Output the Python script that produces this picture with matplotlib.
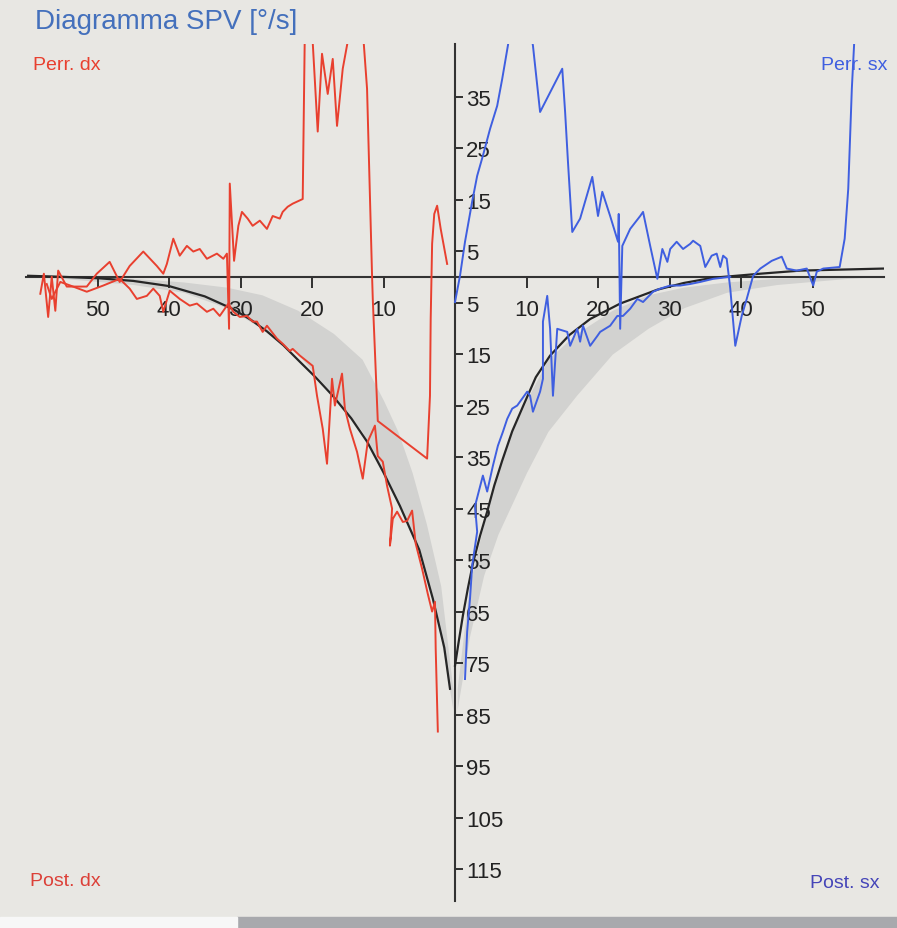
import matplotlib.pyplot as plt
from matplotlib.patches import Rectangle
from matplotlib.ticker import FuncFormatter
import numpy as np

# normal range band (|t| in s, SPV in deg/s), mirrored on both sides
band_t = [0.3, 2, 4, 6, 8, 10, 13, 17, 22, 27, 32, 38, 45, 55, 59]
band_inner = [-80, -60, -48, -38, -30, -24, -16, -11, -6.5, -3.5, -2, -1, -0.3, 0, 0]
band_outer = [-84, -70, -58, -50, -44, -38, -30, -23, -15, -10, -6, -3, -1.5, -0.3, 0]

# fitted decay curves
fit_dx_t = [-0.7, -1.5, -3.1, -5.0, -7.7, -10.0, -12.3, -14.5, -17.1, -19.5, -21.7, -24.0,
            -26.3, -28.5, -31.0, -35.0, -40.0, -45.0, -49.7, -55.0, -59.7]
fit_dx_v = [-80.0, -72.0, -62.5, -53.0, -44.5, -38.0, -32.0, -27.5, -23.1, -19.5, -16.5,
            -13.3, -10.6, -8.4, -6.3, -3.8, -1.8, -0.8, -0.3, 0.0, 0.2]
fit_sx_t = [0.0, 0.5, 1.1, 1.8, 2.5, 3.5, 4.5, 5.5, 6.6, 8.0, 9.5, 11.3, 13.3, 16.0, 18.9,
            23.1, 28.3, 32.0, 36.0, 42.7, 48.3, 60.0]
fit_sx_v = [-75.5, -71.0, -65.8, -60.5, -55.7, -50.3, -45.6, -40.5, -35.7, -30.0, -25.2,
            -19.5, -15.3, -11.3, -8.2, -5.2, -2.5, -1.2, -0.2, 0.6, 1.2, 1.6]

# Perr. dx (red, upper trace)
perr_dx_t = [-1.1, -2.0, -2.5, -2.9, -3.2, -3.4, -3.5, -3.9, -10.8, -11.5, -11.6, -12.3,
             -12.9, -14.7, -15.7, -16.5, -17.1, -17.8, -18.6, -19.2, -20.0, -21.0, -21.3,
             -22.7, -23.4, -24.1, -24.5, -25.5, -26.3, -27.3, -28.3, -29.0, -29.8, -30.3,
             -30.9, -31.5, -31.6, -31.9, -32.4, -33.3, -34.7, -35.7, -36.6, -37.5, -38.5,
             -39.4, -40.3, -40.8, -41.7, -43.6, -45.5, -46.9, -48.3, -50.1, -51.5, -54.3,
             -55.5, -55.9, -56.4, -56.9, -57.5, -58.0]
perr_dx_v = [2.5, 9.3, 13.8, 12.2, 6.4, -8.2, -23.1, -35.3, -28.0, -4.3, 0.2, 36.5,
             48, 48, 40.4, 29.3, 42.3, 35.5, 43.3, 28.2, 48, 48, 15.1,
             14.2, 13.6, 12.6, 11.3, 11.8, 9.3, 10.9, 9.9, 11.3, 12.6, 9.9,
             3.1, 18.1, -10.1, 4.5, 3.5, 4.5, 3.5, 5.4, 4.9, 6.0, 4.1,
             7.4, 2.5, 0.6, 2.1, 4.9, 2.1, -1.0, 2.9, 0.6, -1.9, -1.9,
             1.2, -6.6, 0.0, -7.8, 0.6, -3.3]

# Post. dx (red, lower trace)
post_dx_t = [-2.4, -2.7, -2.8, -3.2, -3.8, -4.6, -5.5, -6.0, -6.7, -7.3, -8.1, -8.7, -9.1,
             -8.8, -9.5, -10.1, -10.8, -11.2, -12.2, -12.9, -13.7, -14.7, -15.4, -15.8,
             -16.8, -17.2, -17.9, -18.5, -19.3, -19.9, -21.7, -22.7, -23.1, -24.1, -24.9,
             -26.3, -26.9, -27.7, -28.3, -29.1, -30.1, -31.0, -31.7, -32.9, -33.8, -34.7,
             -36.1, -37.1, -38.5, -39.9, -40.8, -41.3, -42.2, -43.1, -44.5, -45.5, -46.9,
             -49.2, -51.5, -53.8, -55.2, -56.4, -57.1]
post_dx_v = [-88.3, -72.2, -63.1, -65.0, -61.6, -56.7, -51.8, -45.4, -47.4, -47.6, -45.6,
             -47.0, -52.2, -45.0, -40.6, -35.9, -34.8, -28.9, -32.0, -39.2, -34.0, -29.5,
             -25.6, -18.8, -25.0, -19.8, -36.3, -29.5, -23.1, -17.3, -15.3, -14.0, -14.4,
             -13.0, -12.0, -9.5, -10.7, -8.7, -8.7, -7.6, -7.8, -6.8, -5.2, -7.6, -6.2,
             -6.8, -5.2, -5.6, -4.3, -2.7, -6.8, -3.7, -2.3, -3.7, -4.3, -2.3, -0.4,
             -1.7, -2.9, -1.7, -1.0, -4.3, -1.4]

# Perr. sx (blue, upper trace)
perr_sx_t = [0.0, 0.7, 1.4, 2.4, 3.1, 3.9, 4.9, 5.9, 6.6, 7.4, 9.0, 10.9, 11.9, 15.0, 15.4,
             15.8, 16.4, 17.5, 19.2, 20.0, 20.6, 21.7, 22.8, 22.9, 23.1, 23.4, 24.5, 25.9,
             26.3, 27.3, 28.3, 29.0, 29.7, 30.1, 31.0, 31.9, 32.9, 33.3, 34.3, 35.0, 35.9,
             36.6, 37.1, 37.5, 38.0, 38.5, 39.2, 40.1, 40.8, 41.7, 42.7, 44.3, 45.7, 46.4,
             47.8, 49.2, 50.1, 50.6, 51.5, 53.8, 54.5, 55.0, 55.5, 56.0]
perr_sx_v = [-4.9, 0.2, 6.8, 14.6, 19.6, 23.5, 28.7, 33.2, 38.4, 44.9, 60, 44.9, 32.0, 40.4,
             32.0, 22.3, 8.7, 11.3, 19.4, 11.8, 16.5, 11.8, 6.8, 12.2, -10.1, 6.0, 9.3, 11.8,
             12.6, 6.0, -0.4, 5.4, 2.9, 5.4, 6.8, 5.4, 6.4, 7.0, 6.0, 1.9, 4.1,
             4.5, 1.9, 4.1, 3.5, -2.3, -13.4, -7.6, -4.3, 0.2, 1.6, 3.1, 3.9, 1.6,
             1.2, 1.6, -1.7, 1.0, 1.6, 1.9, 7.4, 17.1, 36.5, 50]

# Post. sx (blue, lower trace)
post_sx_t = [1.4, 1.7, 2.1, 2.4, 3.1, 2.8, 3.9, 4.5, 5.3, 6.0, 6.7, 7.3, 8.0, 8.7, 10.1,
             10.5, 10.9, 11.9, 12.3, 12.3, 12.9, 13.3, 13.7, 14.3, 15.7, 16.1, 17.1, 17.5,
             17.9, 18.9, 19.9, 20.3, 21.7, 22.7, 23.5, 24.5, 25.5, 26.3, 27.7, 28.7, 30.1,
             31.5, 32.9, 34.3, 36.1, 38.5]
post_sx_v = [-78.1, -68.9, -62.5, -56.1, -49.5, -44.5, -38.6, -41.7, -36.7, -32.8, -30.1,
             -27.6, -25.6, -25.0, -22.3, -23.1, -26.2, -22.3, -19.8, -8.7, -3.7, -10.1,
             -23.1, -10.1, -10.7, -13.4, -10.1, -12.6, -9.5, -13.4, -11.5, -10.7, -9.5,
             -7.6, -7.6, -6.2, -4.3, -4.9, -2.9, -2.3, -1.7, -1.7, -1.4, -1.0, -0.4, 0.0]

y_ticks = [35, 25, 15, 5, -5, -15, -25, -35, -45, -55, -65, -75, -85, -95, -105, -115]
x_ticks = [-50, -40, -30, -20, -10, 10, 20, 30, 40, 50]

red = '#e8402f'
blue = '#3f5fe0'
bg = '#e8e7e3'
tick_font = ['Liberation Sans Narrow', 'Liberation Sans', 'DejaVu Sans']

fig = plt.figure(figsize=(8.97, 9.29), dpi=100, facecolor=bg)
ax = fig.add_axes([26 / 897, 1 - 902 / 929, 858 / 897, 857 / 929])
ax.set_facecolor(bg)
ax.set_xlim(-60, 60)
ax.set_ylim(-121.2, 45.2)

bt = np.array(band_t)
ax.fill_between(-bt, band_inner, band_outer, color='#d2d2d0', lw=0, zorder=1)
ax.fill_between(bt, band_inner, band_outer, color='#d2d2d0', lw=0, zorder=1)

ax.plot(fit_dx_t, fit_dx_v, color='#262626', lw=1.6, zorder=2.5)
ax.plot(fit_sx_t, fit_sx_v, color='#262626', lw=1.6, zorder=2.5)

ax.plot(perr_dx_t, perr_dx_v, color=red, lw=1.4, zorder=3)
ax.plot(post_dx_t, post_dx_v, color=red, lw=1.4, zorder=3)
ax.plot(perr_sx_t, perr_sx_v, color=blue, lw=1.4, zorder=3)
ax.plot(post_sx_t, post_sx_v, color=blue, lw=1.4, zorder=3)

# axes crossing at the origin
for s in ['left', 'top']:
    ax.spines[s].set_visible(False)
ax.spines['right'].set_position(('data', 0))
ax.spines['bottom'].set_position(('data', 0))
for s in ['right', 'bottom']:
    ax.spines[s].set_color('#333333')
    ax.spines[s].set_linewidth(1.5)
    ax.spines[s].set_zorder(2)
ax.yaxis.tick_right()
ax.set_yticks(y_ticks)
ax.set_xticks(x_ticks)
absfmt = FuncFormatter(lambda v, p: '%d' % abs(v))
ax.xaxis.set_major_formatter(absfmt)
ax.yaxis.set_major_formatter(absfmt)
ax.tick_params(axis='y', direction='out', length=6, width=1.3, pad=2,
               colors='#222222', labelsize=16)
ax.tick_params(axis='x', direction='out', length=8, width=1.3, pad=8,
               colors='#222222', labelsize=16)
for lab in ax.get_xticklabels() + ax.get_yticklabels():
    lab.set_family(tick_font)

fig.text(35 / 897, 1 - 22 / 929, 'Diagramma SPV [°/s]', color='#4470bc',
         fontsize=20, family='Liberation Sans', va='center', ha='left')
fig.text(33 / 897, 1 - 66 / 929, 'Perr. dx', color=red, fontsize=14,
         family='Liberation Sans', va='center', ha='left')
fig.text(887 / 897, 1 - 66 / 929, 'Perr. sx', color=blue, fontsize=14,
         family='Liberation Sans', va='center', ha='right')
fig.text(30 / 897, 1 - 882 / 929, 'Post. dx', color='#dc4038', fontsize=14,
         family='Liberation Sans', va='center', ha='left')
fig.text(879 / 897, 1 - 884 / 929, 'Post. sx', color='#4545b8', fontsize=14,
         family='Liberation Sans', va='center', ha='right')

# screen edge below the chart
fig.patches.append(Rectangle((237 / 897, 0), 1, 11 / 929, transform=fig.transFigure,
                             color='#a8a9ad', zorder=0))
fig.patches.append(Rectangle((0, 0), 237 / 897, 11 / 929, transform=fig.transFigure,
                             color='#f7f7f7', zorder=0))

fig.savefig('out.png', dpi=100, facecolor=bg)
